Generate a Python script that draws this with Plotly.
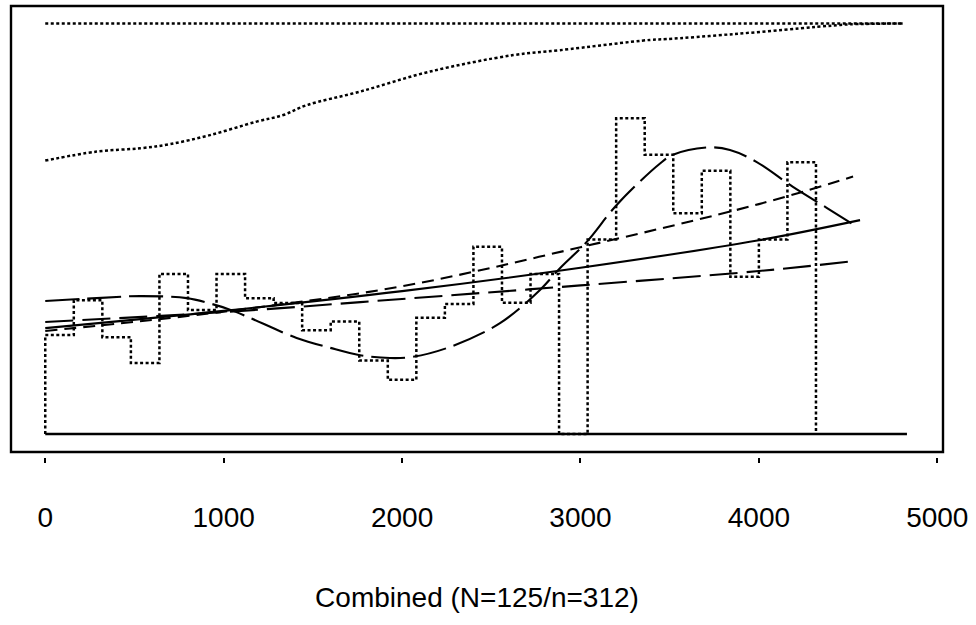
import plotly.graph_objects as go

# ---------------- data ----------------
bin_width = 160
hist_values = [0.241, 0.326, 0.236, 0.173, 0.390, 0.302, 0.390, 0.331, 0.319,
               0.253, 0.274, 0.179, 0.132, 0.283, 0.317, 0.456, 0.320, 0.390,
               0.000, 0.474, 0.769, 0.680, 0.538, 0.641, 0.383, 0.474, 0.662]

baseline_x = [0, 4830]
baseline_y = [0, 0]

top_x = [0, 4808]
top_y = [1.0, 1.0]

cum_x = [0, 288, 531, 699, 923, 1185, 1334, 1465, 1764, 2157, 2623, 2885,
         3390, 3483, 3856, 4230, 4414, 4510, 4808]
cum_y = [0.666, 0.688, 0.696, 0.706, 0.728, 0.761, 0.777, 0.801, 0.834, 0.883,
         0.923, 0.935, 0.960, 0.962, 0.974, 0.988, 0.995, 0.998, 1.0]

scurve_x = [0, 288, 531, 793, 923, 1035, 1147, 1409, 1596, 1764, 1932, 2061,
            2268, 2549, 2773, 2885, 3035, 3203, 3446, 3518, 3707, 3838, 3986,
            4191, 4380, 4519]
scurve_y = [0.324, 0.331, 0.336, 0.331, 0.318, 0.303, 0.283, 0.234, 0.210,
            0.192, 0.185, 0.188, 0.212, 0.270, 0.351, 0.404, 0.468, 0.558,
            0.659, 0.680, 0.698, 0.692, 0.663, 0.602, 0.551, 0.513]

short_x = [0, 1000, 2000, 3000, 4000, 4528]
short_y = [0.251, 0.298, 0.360, 0.455, 0.560, 0.627]

solid_x = [0, 1000, 2000, 3000, 4000, 4567]
solid_y = [0.258, 0.300, 0.348, 0.405, 0.472, 0.521]

long_x = [0, 1000, 2000, 3000, 4000, 4510]
long_y = [0.273, 0.297, 0.329, 0.362, 0.397, 0.420]

x_ticks = [0, 1000, 2000, 3000, 4000, 5000]
x_title = "Combined (N=125/n=312)"

# ---------------- figure ----------------
hist_x = [0] + [i * bin_width for i in range(len(hist_values))] + [len(hist_values) * bin_width]
hist_y = [0] + hist_values + [0]

fig = go.Figure()
black = "#000000"
w = 2.1
wd = 2.5
dot = "3px,2.5px"

fig.add_trace(go.Scatter(x=baseline_x, y=baseline_y, mode="lines",
                         line=dict(color=black, width=2.4)))
fig.add_trace(go.Scatter(x=hist_x, y=hist_y, mode="lines", line_shape="hv",
                         line=dict(color=black, width=wd, dash=dot)))
fig.add_trace(go.Scatter(x=top_x, y=top_y, mode="lines",
                         line=dict(color=black, width=wd, dash=dot)))
fig.add_trace(go.Scatter(x=cum_x, y=cum_y, mode="lines", line_shape="spline",
                         line=dict(color=black, width=wd, dash=dot)))
fig.add_trace(go.Scatter(x=scurve_x, y=scurve_y, mode="lines", line_shape="spline",
                         line=dict(color=black, width=w, dash="34px,8px")))
fig.add_trace(go.Scatter(x=short_x, y=short_y, mode="lines", line_shape="spline",
                         line=dict(color=black, width=w, dash="12px,7px")))
fig.add_trace(go.Scatter(x=solid_x, y=solid_y, mode="lines", line_shape="spline",
                         line=dict(color=black, width=w)))
fig.add_trace(go.Scatter(x=long_x, y=long_y, mode="lines", line_shape="spline",
                         line=dict(color=black, width=w, dash="28px,9px")))

fig.update_layout(
    width=976, height=625,
    margin=dict(l=11, r=33, t=6, b=168),
    paper_bgcolor="white", plot_bgcolor="white",
    showlegend=False,
    font=dict(family="Liberation Sans, Arial, sans-serif", color="black", size=28),
    xaxis=dict(range=[-192, 5032], tickvals=x_ticks, ticktext=[str(v) for v in x_ticks],
               ticks="outside", ticklen=5, tickwidth=2, tickcolor=black,
               showline=False, showgrid=False, zeroline=False,
               ticklabelstandoff=30, tickfont=dict(size=28),
               title=dict(text=x_title, font=dict(size=28), standoff=55)),
    yaxis=dict(range=[-0.056, 1.0426], visible=False, showgrid=False, zeroline=False),
    shapes=[dict(type="rect", xref="paper", yref="paper", x0=0, x1=1,
                 y0=0.0111, y1=1, line=dict(color=black, width=2.4))],
)

fig.write_html("out.html")
